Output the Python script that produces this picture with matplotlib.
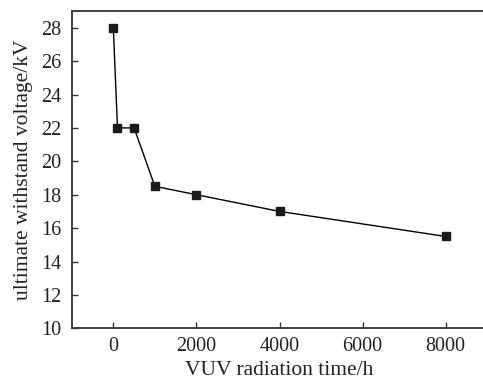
import matplotlib
matplotlib.use("Agg")
import matplotlib.pyplot as plt

# VUV radiation time (h) and ultimate withstand voltage (kV)
times = [0, 100, 500, 1000, 2000, 4000, 8000]
voltages = [28, 22, 22, 18.5, 18, 17, 15.5]

x_ticks = [0, 2000, 4000, 6000, 8000]
y_ticks = [10, 12, 14, 16, 18, 20, 22, 24, 26, 28]

plt.rcParams['font.family'] = ['Liberation Serif', 'DejaVu Serif']

fig = plt.figure(figsize=(4.83, 3.81), dpi=100)
ax = fig.add_axes([0.1486, 0.1383, 0.8603, 0.8328])

ax.plot(times, voltages, color='black', linewidth=1.0,
        marker='s', markersize=5.5, markerfacecolor='#1a1a1a', markeredgecolor='#1a1a1a')

ax.set_xlim(-1000, 9000)
ax.set_ylim(10, 29)
ax.set_xticks(x_ticks)
ax.set_yticks(y_ticks)
ax.tick_params(direction='in', length=4, width=1, labelsize=14.5, colors='#333333',
               labelcolor='#222222')
ax.tick_params(axis='y', pad=7.5)
ax.tick_params(axis='x', pad=6)

for side in ['left', 'bottom', 'top', 'right']:
    ax.spines[side].set_linewidth(1.3)
    ax.spines[side].set_color('#333333')

ax.set_xlabel('VUV radiation time/h', fontsize=15.5, labelpad=4, color='#222222')
ax.set_ylabel('ultimate withstand voltage/kV', fontsize=15.5, labelpad=6, color='#222222')

fig.savefig('out.png', dpi=100)
